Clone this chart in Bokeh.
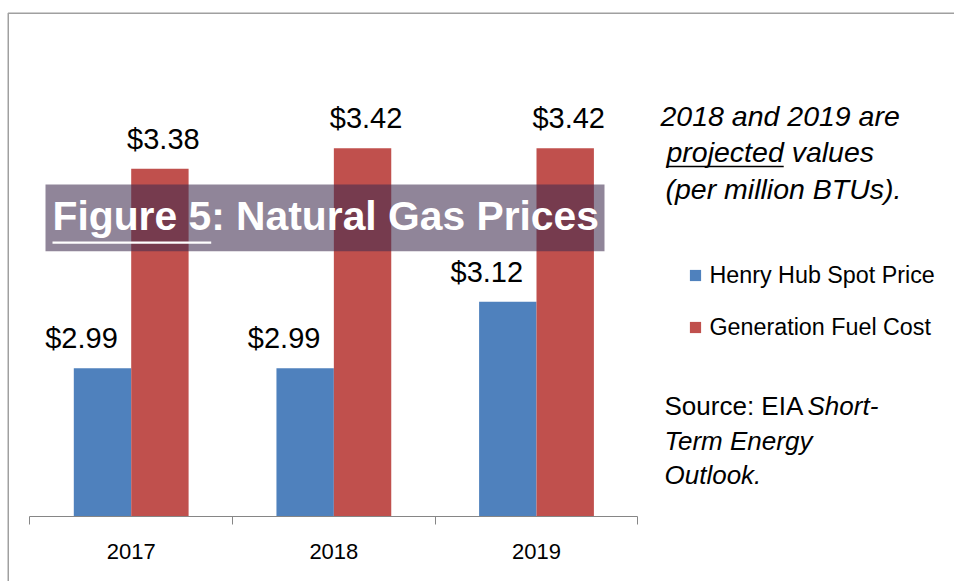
from bokeh.plotting import figure
from bokeh.models import (Range1d, FixedTicker, ColumnDataSource, Legend,
                          LegendItem, Label, BoxAnnotation)
from bokeh.core.properties import value
from bokeh.embed import file_html
from bokeh.resources import INLINE

# ---- data ----
years = ["2017", "2018", "2019"]
henry_hub = [2.99, 2.99, 3.12]
gen_fuel = [3.38, 3.42, 3.42]
series_names = ["Henry Hub Spot Price", "Generation Fuel Cost"]
y_base = 2.7
title_text = "Figure 5: Natural Gas Prices"

# ---- geometry (image pixels) ----
W, H = 954, 581
cat_px = 202.65      # px per category
c0_px = 130.7        # x of first category centre
base_px = 516        # y of the baseline
ppu = 511.5          # px per $ unit

x0 = -c0_px / cat_px
x1 = x0 + W / cat_px
y_top = y_base + base_px / ppu
y_bot = y_top - H / ppu


def X(px):
    return x0 + px / cat_px


def Y(py):
    return y_top - py / ppu


MID = 0.3465  # em-box middle above baseline (Arial metrics)

BLUE = "#4F81BD"
RED = "#C0504D"
FONT = "Liberation Sans"

p = figure(width=W, height=H, output_backend="svg", toolbar_location=None,
           x_range=Range1d(x0, x1), y_range=Range1d(y_bot, y_top),
           min_border=0, y_axis_location=None)
p.outline_line_color = None
p.xgrid.visible = False
p.ygrid.visible = False
p.background_fill_color = "white"
p.border_fill_color = "white"

# chart border (top & left visible)
p.quad(left=[X(7.75)], right=[x1 + 1], top=[Y(12.75)], bottom=[y_bot - 1],
       fill_color=None, line_color="#a0a0a0", line_width=1.5)

bw = 57.4 / cat_px
idx = list(range(len(years)))
xb = [i - bw / 2 for i in idx]
xr = [i + bw / 2 for i in idx]

src = ColumnDataSource(dict(
    xb=xb, xr=xr, hh=henry_hub, gf=gen_fuel,
    hh_lbl=[f"${v:.2f}" for v in henry_hub],
    gf_lbl=[f"${v:.2f}" for v in gen_fuel],
))

r1 = p.vbar(x="xb", width=bw, top="hh", bottom=y_base, source=src,
            fill_color=BLUE, line_color=None)
r2 = p.vbar(x="xr", width=bw, top="gf", bottom=y_base, source=src,
            fill_color=RED, line_color=None)

p.text(x="xb", y="hh", text="hh_lbl", source=src, text_align="center",
       text_baseline="middle", y_offset=-30, x_offset=-21,
       text_font=value(FONT), text_font_size="29px", text_color="black")
p.text(x="xr", y="gf", text="gf_lbl", source=src, text_align="center",
       text_baseline="middle", y_offset=-30, x_offset=3.5,
       text_font=value(FONT), text_font_size="29px", text_color="black")

# x axis at baseline
ax = p.xaxis[0]
ax.ticker = FixedTicker(ticks=idx, minor_ticks=[i - 0.5 for i in idx] + [idx[-1] + 0.5])
ax.major_label_overrides = {i: y for i, y in zip(idx, years)}
ax.fixed_location = y_base
ax.bounds = (idx[0] - 0.5, idx[-1] + 0.5)
ax.major_tick_line_color = None
ax.major_tick_in = 0
ax.major_tick_out = 0
ax.minor_tick_in = 0
ax.minor_tick_out = 8
ax.minor_tick_line_color = "#868686"
ax.axis_line_color = "#868686"
ax.axis_line_width = 1
ax.major_label_standoff = 19
ax.major_label_text_font = FONT
ax.major_label_text_font_size = "22px"
ax.major_label_text_color = "black"

# legend
legend = Legend(items=[LegendItem(label=series_names[0], renderers=[r1]),
                       LegendItem(label=series_names[1], renderers=[r2])],
                location=(687.5, 240.5), orientation="vertical",
                glyph_width=14, glyph_height=14, label_standoff=8,
                spacing=25, padding=0, margin=0,
                border_line_color=None, background_fill_alpha=0,
                label_text_font=FONT, label_text_font_size="23.3px",
                label_text_color="black")
p.add_layout(legend, "center")

# title banner
title_size = 40.8
p.add_layout(BoxAnnotation(left=X(45), right=X(604), top=Y(184), bottom=Y(250.7),
                           fill_color="#3F2D50", fill_alpha=0.58, line_color=None))
p.add_layout(Label(x=X(52), y=Y(230 - MID * title_size), text=title_text,
                   text_color="white", text_font=FONT, text_font_style="bold",
                   text_font_size=f"{title_size}px", text_baseline="middle",
                   text_align="left"))
p.add_layout(BoxAnnotation(left=X(52), right=X(52 + 3.890 * title_size), top=Y(241),
                           bottom=Y(243.3), fill_color="white", fill_alpha=1,
                           line_color=None))

# side note
side_size = 28.5
for txt, lx, by in [("2018 and 2019 are", 660, 125),
                    ("projected values", 666, 161.7),
                    ("(per million BTUs).", 665, 198)]:
    p.add_layout(Label(x=X(lx), y=Y(by - MID * side_size), text=txt, text_font=FONT,
                       text_font_style="italic", text_font_size=f"{side_size}px",
                       text_baseline="middle", text_color="black"))
p.add_layout(BoxAnnotation(left=X(666), right=X(666 + 4.113 * side_size),
                           top=Y(165.3), bottom=Y(166.8), fill_color="black",
                           fill_alpha=1, line_color=None))

# source note
src_size = 26
p.add_layout(Label(x=X(664), y=Y(415 - MID * src_size), text="Source: EIA",
                   text_font=FONT, text_font_size=f"{src_size}px",
                   text_baseline="middle", text_color="black"))
for txt, lx, by in [("Short-", 807, 415), ("Term Energy", 664, 450),
                    ("Outlook.", 664, 483.5)]:
    p.add_layout(Label(x=X(lx), y=Y(by - MID * src_size), text=txt, text_font=FONT,
                       text_font_style="italic", text_font_size=f"{src_size}px",
                       text_baseline="middle", text_color="black"))

open("out.html", "w").write(file_html(p, INLINE))
